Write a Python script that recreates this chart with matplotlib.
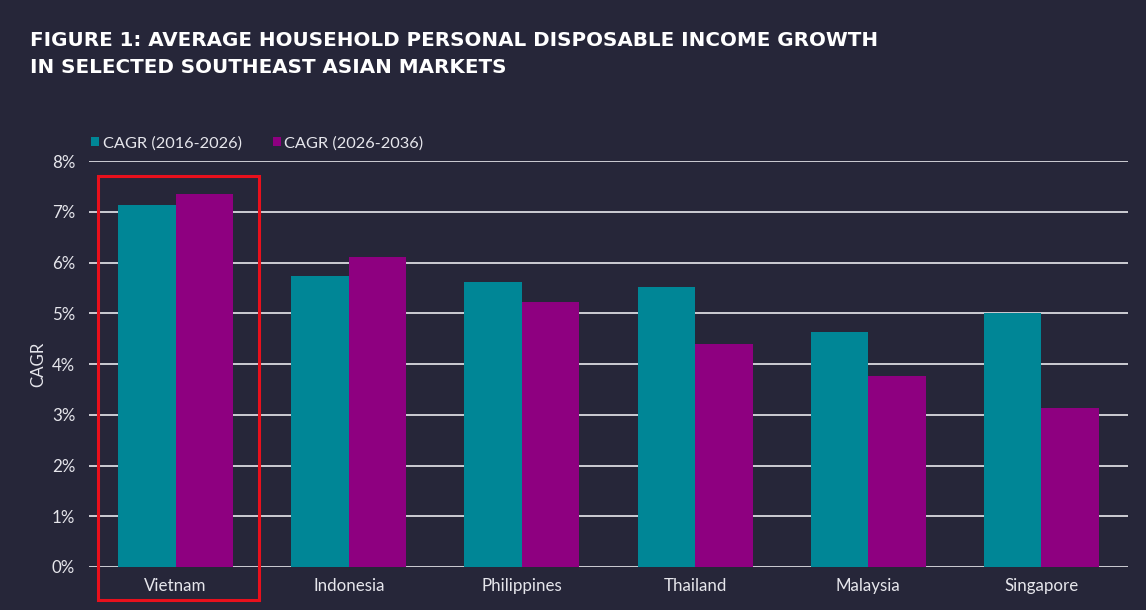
import matplotlib
matplotlib.use("Agg")
import matplotlib.pyplot as plt
import numpy as np
from matplotlib.patches import Rectangle

# data
countries = ["Vietnam", "Indonesia", "Philippines", "Thailand", "Malaysia", "Singapore"]
cagr_2016_2026 = [7.13, 5.73, 5.61, 5.52, 4.63, 5.00]
cagr_2026_2036 = [7.36, 6.10, 5.22, 4.40, 3.77, 3.14]
series_labels = ["CAGR (2016-2026)", "CAGR (2026-2036)"]
yticks = [0, 1, 2, 3, 4, 5, 6, 7, 8]

BG = "#262639"
TEAL = "#008696"
MAGENTA = "#8E0080"
TEXT = "#E6E6EC"

plt.rcParams["font.family"] = ["Lato", "DejaVu Sans"]

fig = plt.figure(figsize=(11.46, 6.10), dpi=100, facecolor=BG)
ax = fig.add_axes([0.0777, 0.0705, 0.9066, 0.6655], facecolor=BG)

x = np.arange(len(countries))
w = 0.332
ax.bar(x - w / 2, cagr_2016_2026, w, color=TEAL, label=series_labels[0], zorder=3)
ax.bar(x + w / 2, cagr_2026_2036, w, color=MAGENTA, label=series_labels[1], zorder=3)

ax.set_xlim(-0.5, len(countries) - 0.5)
ax.set_ylim(0, 8)
ax.set_yticks(yticks)
ax.set_yticklabels([f"{t}%" for t in yticks])
ax.set_xticks(x)
ax.set_xticklabels(countries)
ax.tick_params(axis="both", length=0, colors=TEXT, labelsize=12.2)
ax.tick_params(axis="y", pad=10)
ax.tick_params(axis="x", pad=8)
ax.yaxis.grid(True, color="#DADAE0", linewidth=1.3, zorder=0)
ax.set_axisbelow(True)
for s in ax.spines.values():
    s.set_visible(False)
ax.set_ylabel("CAGR", color=TEXT, fontsize=12.2, labelpad=4)

# red highlight box around Vietnam
ax.add_patch(Rectangle((-0.448, -0.65), 0.928, 8.35, fill=False,
                       edgecolor="#E8101C", linewidth=2.2, clip_on=False, zorder=5))

leg = ax.legend(loc="lower left", bbox_to_anchor=(-0.009, 0.998), ncol=2, frameon=False,
                handlelength=0.5, handleheight=0.5, handletextpad=0.2,
                columnspacing=1.9, fontsize=11.8, borderaxespad=0.3)
for t in leg.get_texts():
    t.set_color(TEXT)

fig.text(0.026, 0.933, "FIGURE 1: AVERAGE HOUSEHOLD PERSONAL DISPOSABLE INCOME GROWTH",
         color="white", fontsize=14.3, fontweight="bold", va="center",
         family=["DejaVu Sans"])
fig.text(0.026, 0.889, "IN SELECTED SOUTHEAST ASIAN MARKETS",
         color="white", fontsize=14.3, fontweight="bold", va="center",
         family=["DejaVu Sans"])

fig.savefig("out.png", dpi=100, facecolor=BG)
